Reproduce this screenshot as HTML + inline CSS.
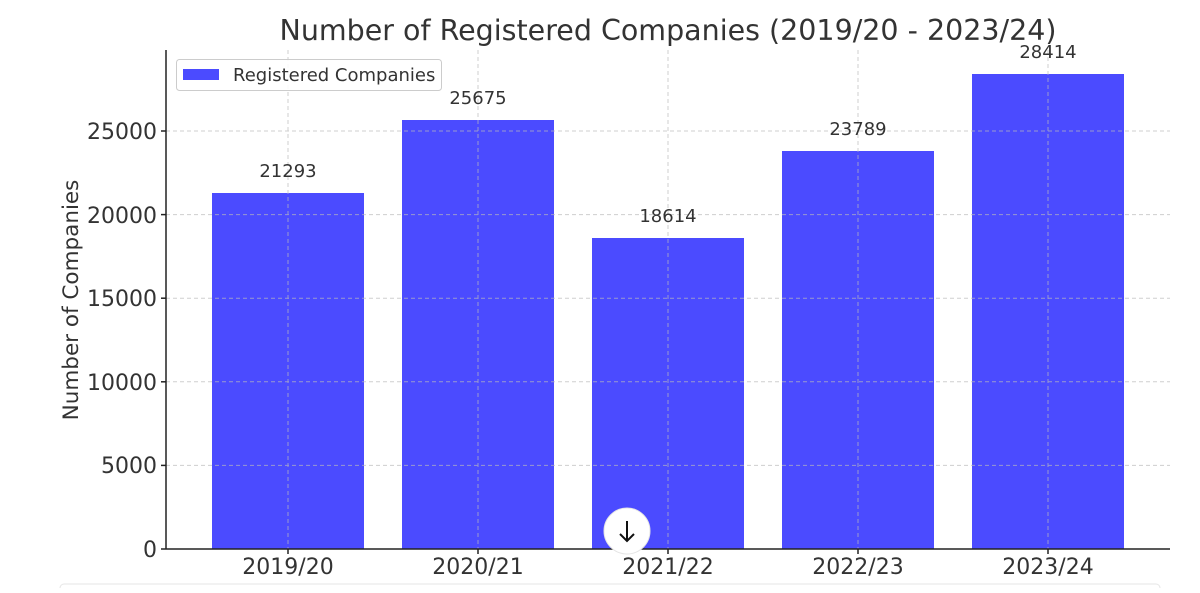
<!DOCTYPE html>
<html><head><style>
html,body{margin:0;padding:0;background:#fff;}
svg text{font-family:"DejaVu Sans","Liberation Sans",sans-serif;fill:#333;}
</style></head><body>
<svg width="1200" height="588" viewBox="0 0 1200 588" xmlns="http://www.w3.org/2000/svg">
<rect width="1200" height="588" fill="#fff"/>
<text x="668" y="40" font-size="28.5" text-anchor="middle">Number of Registered Companies (2019/20 - 2023/24)</text>
<g fill="#4b4bff">
<rect x="212" y="193" width="152" height="356"/>
<rect x="402" y="120" width="152" height="429"/>
<rect x="592" y="238" width="152" height="311"/>
<rect x="782" y="151" width="152" height="398"/>
<rect x="972" y="74" width="152" height="475"/>
</g>
<g stroke="#bbb" stroke-width="1" stroke-dasharray="4,3" opacity="0.7">
<line x1="166" x2="1170" y1="465.4" y2="465.4"/>
<line x1="166" x2="1170" y1="381.8" y2="381.8"/>
<line x1="166" x2="1170" y1="298.2" y2="298.2"/>
<line x1="166" x2="1170" y1="214.6" y2="214.6"/>
<line x1="166" x2="1170" y1="131" y2="131"/>
<line x1="288" x2="288" y1="50" y2="549"/>
<line x1="478" x2="478" y1="50" y2="549"/>
<line x1="668" x2="668" y1="50" y2="549"/>
<line x1="858" x2="858" y1="50" y2="549"/>
<line x1="1048" x2="1048" y1="50" y2="549"/>
</g>
<g stroke="#222" stroke-width="1.5">
<line x1="166" y1="50" x2="166" y2="549"/>
<line x1="166" y1="549" x2="1170" y2="549"/>
<line x1="161" y1="549" x2="166" y2="549"/>
<line x1="161" y1="465.4" x2="166" y2="465.4"/>
<line x1="161" y1="381.8" x2="166" y2="381.8"/>
<line x1="161" y1="298.2" x2="166" y2="298.2"/>
<line x1="161" y1="214.6" x2="166" y2="214.6"/>
<line x1="161" y1="131" x2="166" y2="131"/>
<line x1="288" y1="549" x2="288" y2="554"/>
<line x1="478" y1="549" x2="478" y2="554"/>
<line x1="668" y1="549" x2="668" y2="554"/>
<line x1="858" y1="549" x2="858" y2="554"/>
<line x1="1048" y1="549" x2="1048" y2="554"/>
</g>
<g font-size="22" text-anchor="end">
<text x="157" y="557">0</text>
<text x="157" y="473">5000</text>
<text x="157" y="390">10000</text>
<text x="157" y="306">15000</text>
<text x="157" y="223">20000</text>
<text x="157" y="139">25000</text>
</g>
<g font-size="22" text-anchor="middle">
<text x="288" y="574">2019/20</text>
<text x="478" y="574">2020/21</text>
<text x="668" y="574">2021/22</text>
<text x="858" y="574">2022/23</text>
<text x="1048" y="574">2023/24</text>
</g>
<text transform="translate(78,300) rotate(-90)" font-size="21.5" text-anchor="middle">Number of Companies</text>
<g font-size="18" text-anchor="middle">
<text x="288" y="177">21293</text>
<text x="478" y="104">25675</text>
<text x="668" y="222">18614</text>
<text x="858" y="135">23789</text>
<text x="1048" y="58">28414</text>
</g>
<rect x="176.5" y="59.5" width="265" height="31" rx="3" fill="#fff" fill-opacity="0.85" stroke="#ccc"/>
<rect x="183" y="69" width="36" height="11" fill="#4b4bff"/>
<text x="233" y="81" font-size="18">Registered Companies</text>
<circle cx="627" cy="531" r="23" fill="#fff" stroke="#e5e5e5"/>
<path d="M627 521 V541 M620 534 L627 541 L634 534" stroke="#111" stroke-width="2" fill="none"/>
<rect x="60" y="584" width="1100" height="10" rx="4" fill="#fff" stroke="#e6e6e6"/>
</svg>
</body></html>
